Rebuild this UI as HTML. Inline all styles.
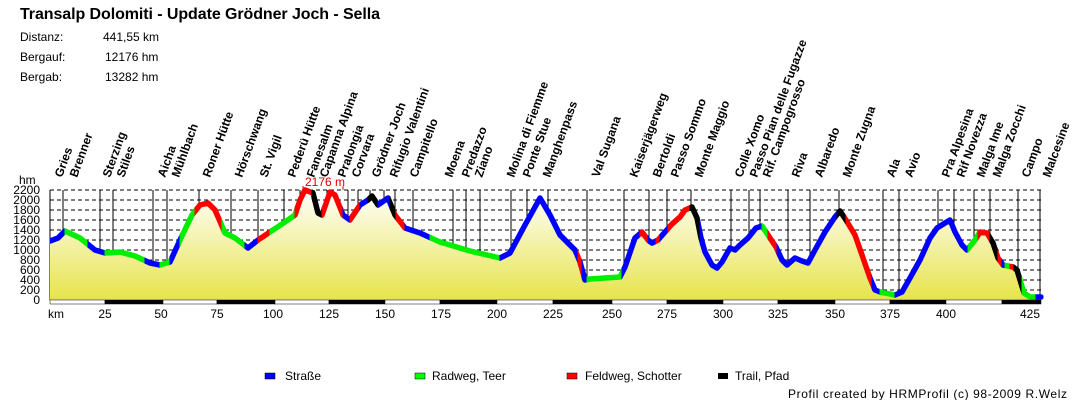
<!DOCTYPE html>
<html><head><meta charset="utf-8">
<style>
html,body{margin:0;padding:0;background:#fff;}
svg{display:block;font-family:"Liberation Sans",Arial,sans-serif;}
</style></head>
<body>
<svg id="s" width="1090" height="400" viewBox="0 0 1090 400" xmlns="http://www.w3.org/2000/svg">
<defs>
<linearGradient id="g" x1="0" y1="190" x2="0" y2="300" gradientUnits="userSpaceOnUse">
<stop offset="0" stop-color="#ffffff"/>
<stop offset="1" stop-color="#e6e44a"/>
</linearGradient>
</defs>
<text x="20" y="19" font-size="16" font-weight="bold" textLength="360">Transalp Dolomiti - Update Grödner Joch - Sella</text>
<g font-size="12">
<text x="20" y="41">Distanz:</text><text x="103" y="41">441,55 km</text>
<text x="20" y="61">Bergauf:</text><text x="105" y="61">12176 hm</text>
<text x="20" y="81">Bergab:</text><text x="105" y="81">13282 hm</text>
</g>
<g id="grid"></g>
<g id="vlines"></g>
<path id="fill" fill="url(#g)"/>
<g id="segs"></g>
<g id="labels" font-size="12" font-weight="bold"></g>
<g font-size="12" text-anchor="end" id="ylab"></g>
<text x="19" y="184" font-size="12">hm</text>
<text x="305" y="186" font-size="12" fill="#e00000">2176 m</text>
<g id="bar"></g>
<g font-size="12" text-anchor="middle" id="xlab"></g>
<text x="48" y="318" font-size="12">km</text>
<g font-size="12">
<rect x="265" y="373" width="10" height="6" fill="#0000ff" stroke="#000" stroke-width="0.5"/><text x="285" y="380">Straße</text>
<rect x="415" y="373" width="10" height="6" fill="#00ff00" stroke="#000" stroke-width="0.5"/><text x="432" y="380">Radweg, Teer</text>
<rect x="567" y="373" width="10" height="6" fill="#ff0000" stroke="#000" stroke-width="0.5"/><text x="585" y="380">Feldweg, Schotter</text>
<rect x="718" y="373" width="10" height="6" fill="#000"/><text x="735" y="380">Trail, Pfad</text>
<text x="788" y="398" textLength="279">Profil created by HRMProfil (c) 98-2009 R.Welz</text>
</g>
</svg>
<script>
var NS="http://www.w3.org/2000/svg";
function el(p,t,a,txt){var e=document.createElementNS(NS,t);for(var k in a)e.setAttribute(k,a[k]);if(txt!=null)e.textContent=txt;document.getElementById(p).appendChild(e);return e;}
for(var i=0;i<=11;i++){var y=190+i*10;
 el("grid","line",{x1:50,x2:1041,y1:y,y2:y,stroke:"#000","stroke-width":1,"stroke-dasharray":"4,3"});
 el("ylab","text",{x:40,y:y+4},String(2200-i*200));}
el("grid","line",{x1:50,x2:50,y1:190,y2:300,stroke:"#000"});
var vl=[63,100,113,153,167,199,231,258,284,300,314,327,348,358,370,384,395,413,453,466,480,511,527,548,587,624,649,667,691,731,749,760,788,810,839,883,899,938,954,974,990,1018,1040];
vl.forEach(function(x){el("vlines","line",{x1:x,x2:x,y1:190,y2:300,stroke:"#000","stroke-width":1});});
var P=[[50,241],[58,238],[65,231],[80,238],[95,250],[105,253],[120,252],[135,256],[150,263],[160,265],[170,262],[180,240],[192,215],[200,205],[208,203],[215,210],[225,233],[235,238],[248,248],[258,240],[270,232],[285,222],[295,215],[300,200],[305,190],[313,193],[318,213],[322,215],[330,192],[335,195],[343,215],[350,220],[360,205],[368,200],[372,196],[378,205],[388,198],[395,215],[405,228],[420,233],[440,242],[470,251],[500,258],[510,253],[525,225],[540,198],[550,215],[560,235],[575,250],[580,262],[585,280],[590,279],[620,277],[625,267],[635,238],[642,232],[648,240],[652,243],[658,240],[665,232],[672,224],[680,217],[685,210],[692,207],[697,218],[701,238],[705,252],[712,265],[717,268],[722,262],[730,248],[735,250],[740,245],[748,238],[756,228],[762,226],[770,238],[776,247],[782,260],[787,265],[795,258],[802,261],[808,263],[815,250],[825,232],[835,217],[840,211],[846,220],[855,235],[862,255],[870,278],[875,290],[880,292],[895,295],[902,292],[910,278],[920,260],[930,238],[937,228],[945,223],[950,220],[955,232],[962,245],[967,250],[975,240],[980,232],[987,233],[993,243],[998,258],[1003,265],[1008,266],[1013,267],[1017,270],[1020,280],[1024,293],[1030,297],[1041,297]];
var d="M"+P.map(function(p){return p.join(",");}).join(" L");
document.getElementById("fill").setAttribute("d",d+" L1041,300 L50,300 Z");
var B="#0000ff",G="#00ee00",R="#ff0000",K="#000000";
var S=[[50,65,B],[65,88,G],[88,105,B],[105,145,G],[145,160,B],[160,170,G],[170,180,B],[180,195,G],[195,222,R],[222,245,G],[245,258,B],[258,270,R],[270,295,G],[295,312,R],[312,322,K],[322,343,R],[343,350,B],[350,360,R],[360,368,B],[368,378,K],[378,390,B],[390,396,K],[396,405,R],[405,430,B],[430,500,G],[500,578,B],[578,582,R],[582,587,B],[587,622,G],[622,640,B],[640,648,R],[648,656,B],[656,660,R],[660,668,B],[668,690,R],[690,700,K],[700,762,B],[762,768,G],[768,777,R],[777,837,B],[837,846,K],[846,872,R],[872,880,B],[880,895,G],[895,968,B],[968,978,G],[978,990,R],[990,998,K],[998,1002,R],[1002,1005,B],[1005,1010,G],[1010,1014,R],[1014,1022,K],[1022,1036,G],[1036,1043,B]];
S.forEach(function(s,i){
 var c=el("segs","clipPath",{id:"c"+i});
 var r=document.createElementNS(NS,"rect");r.setAttribute("x",s[0]-0.5);r.setAttribute("y",170);r.setAttribute("width",s[1]-s[0]+1);r.setAttribute("height",140);c.appendChild(r);
 el("segs","path",{d:d,fill:"none",stroke:s[2],"stroke-width":5.5,"stroke-linejoin":"round","stroke-linecap":"round","clip-path":"url(#c"+i+")"});
});
el("segs","line",{x1:303,x2:303,y1:186,y2:190,stroke:R});
el("segs","line",{x1:343,x2:343,y1:186,y2:190,stroke:R});
var bx=[50,105,163,217,275,329,385,440,497,553,612,667,723,778,835,890,946,1002,1041];
for(var i=0;i<bx.length-1;i++){el("bar","rect",{x:bx[i],y:300,width:bx[i+1]-bx[i],height:4,fill:(i%2?"#000":"#fff"),stroke:"#000","stroke-width":0.5});}
var xl=[[105,25],[161,50],[217,75],[273,100],[329,125],[385,150],[441,175],[497,200],[553,225],[612,250],[667,275],[723,300],[778,325],[835,350],[890,375],[946,400],[1030,425]];
xl.forEach(function(a){el("xlab","text",{x:a[0],y:318},String(a[1]));});
var L=[["Gries",55],["Brenner",70],["Sterzing",103],["Stiles",117],["Aicha",158],["Mühlbach",172],["Roner Hütte",203],["Hörschwang",235],["St. Vigil",260],["Pederü Hütte",288],["Fanesalm",307],["Capanna Alpina",320],["Pralongia",338],["Corvara",352],["Grödner Joch",372],["Rifugio Valentini",390],["Campitello",410],["Moena",445],["Predazzo",462],["Ziano",475],["Molina di Fiemme",507],["Ponte Stue",523],["Manghenpass",543],["Val Sugana",592],["Kaiserjägerweg",630],["Bertoldi",653],["Passo Sommo",671],["Monte Maggio",695],["Colle Xomo",735],["Passo Pian delle Fugazze",750],["Rif. Campogrosso",763],["Riva",792],["Albaredo",815],["Monte Zugna",843],["Ala",887],["Avio",905],["Pra Alpesina",942],["Rif Novezza",957],["Malga Ime",977],["Malga Zocchi",993],["Campo",1022],["Malcesine",1043]];
L.forEach(function(a){var x=a[1]+7,y=178;el("labels","text",{x:x,y:y,transform:"rotate(-70 "+x+" "+y+")"},a[0]);});
</script>
</body></html>
